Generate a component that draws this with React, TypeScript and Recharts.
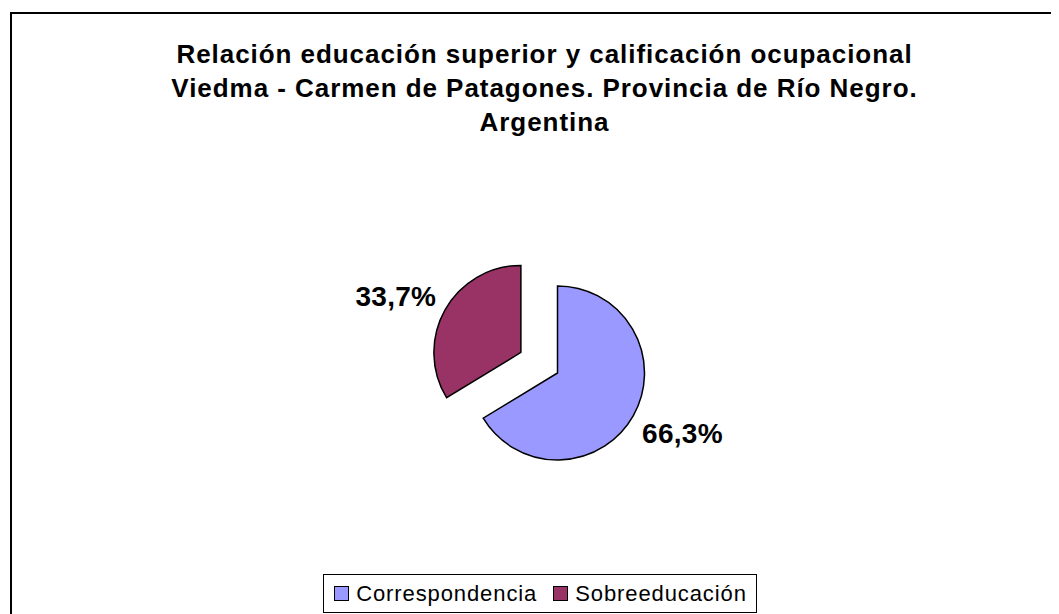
import React from 'react';
import { PieChart, Pie, Cell, Legend } from 'recharts';

const categories = ['Correspondencia', 'Sobreeducación'];
const values = [66.3, 33.7];
const colors = ['#9999FF', '#993366'];
const titleLines = [
  'Relación educación superior y calificación ocupacional',
  'Viedma - Carmen de Patagones. Provincia de Río Negro.',
  'Argentina',
];

const data = categories.map((name, i) => ({ name, value: values[i] }));

const FONT = "'Liberation Sans', Arial, sans-serif";
const W = 1051;
const H = 606;
const CX = 549.5;
const CY = 365;
const R = 87;
const EXPLODE = 42;
const explodedIndex = 1;

const total = values.reduce((a, b) => a + b, 0);
const before = values.slice(0, explodedIndex).reduce((a, b) => a + b, 0);
const midDeg = 90 - (360 * (before + values[explodedIndex] / 2)) / total;
const dx = EXPLODE * Math.cos((midDeg * Math.PI) / 180);
const dy = -EXPLODE * Math.sin((midDeg * Math.PI) / 180);

const fmt = (v: number) => v.toFixed(1).replace('.', ',') + '%';

const makeLabel = (visibleIndex: number) => (props: any) => {
  const { cx, cy, midAngle, outerRadius, index, value } = props;
  if (index !== visibleIndex) return null;
  const rad = Math.PI / 180;
  const r = outerRadius + 10;
  const c = Math.cos(-midAngle * rad);
  const s = Math.sin(-midAngle * rad);
  const x = cx + r * c;
  const y = cy + r * s;
  const anchor = c >= 0 ? 'start' : 'end';
  const by = s > 0 ? y + 22 : y + 1;
  return (
    <text
      key={`lbl-${index}`}
      x={x}
      y={by}
      textAnchor={anchor}
      fontFamily={FONT}
      fontWeight="bold"
      fontSize={28}
      letterSpacing={0.3}
      fill="#000"
    >
      {fmt(value)}
    </text>
  );
};

const LegendContent = () => (
  <div style={{ display: 'flex', justifyContent: 'center' }}>
    <div
      style={{
        display: 'flex',
        alignItems: 'center',
        border: '1px solid #000',
        height: 37,
        padding: '0 9px 0 10px',
        fontFamily: FONT,
        fontSize: 22,
        letterSpacing: 0.9,
        background: '#fff',
        color: '#000',
        boxSizing: 'content-box',
      }}
    >
      {categories.map((c, i) => (
        <div key={c} style={{ display: 'flex', alignItems: 'center', marginLeft: i ? 16 : 0 }}>
          <span
            style={{
              display: 'inline-block',
              width: 13,
              height: 13,
              background: colors[i],
              border: '1px solid #000',
              marginRight: 7,
            }}
          />
          <span>{c}</span>
        </div>
      ))}
    </div>
  </div>
);

export default function App() {
  return (
    <div style={{ position: 'relative', width: W, height: H, overflow: 'hidden', background: '#fff' }}>
      <div
        style={{
          position: 'absolute',
          left: 2,
          top: 4,
          width: 2000,
          height: 2000,
          border: '2px solid #000',
        }}
      />
      <div
        style={{
          position: 'absolute',
          left: 0,
          top: 29,
          width: 1073,
          textAlign: 'center',
          fontFamily: FONT,
          fontWeight: 'bold',
          fontSize: 26,
          lineHeight: '34px',
          letterSpacing: 0.95,
          color: '#000',
        }}
      >
        {titleLines.map((t) => (
          <div key={t}>{t}</div>
        ))}
      </div>
      <div style={{ position: 'absolute', left: 0, top: 0 }}>
        <PieChart width={W} height={H} margin={{ top: 0, right: 0, bottom: 0, left: 0 }}>
          <Pie
            data={data}
            dataKey="value"
            nameKey="name"
            cx={CX}
            cy={CY}
            outerRadius={R}
            startAngle={90}
            endAngle={-270}
            isAnimationActive={false}
            labelLine={false}
            label={makeLabel(0)}
          >
            {data.map((d, i) => (
              <Cell
                key={d.name}
                fill={i === explodedIndex ? 'none' : colors[i]}
                stroke={i === explodedIndex ? 'none' : '#000'}
                strokeWidth={1.5}
              />
            ))}
          </Pie>
          <Pie
            data={data}
            dataKey="value"
            nameKey="name"
            cx={CX + dx}
            cy={CY + dy}
            outerRadius={R}
            startAngle={90}
            endAngle={-270}
            isAnimationActive={false}
            labelLine={false}
            label={makeLabel(explodedIndex)}
          >
            {data.map((d, i) => (
              <Cell
                key={d.name}
                fill={i === explodedIndex ? colors[i] : 'none'}
                stroke={i === explodedIndex ? '#000' : 'none'}
                strokeWidth={1.5}
              />
            ))}
          </Pie>
          <Legend
            verticalAlign="bottom"
            wrapperStyle={{ position: 'absolute', left: 0, top: 566, bottom: 'auto', width: 1064, height: 39 }}
            content={LegendContent}
          />
        </PieChart>
      </div>
    </div>
  );
}
